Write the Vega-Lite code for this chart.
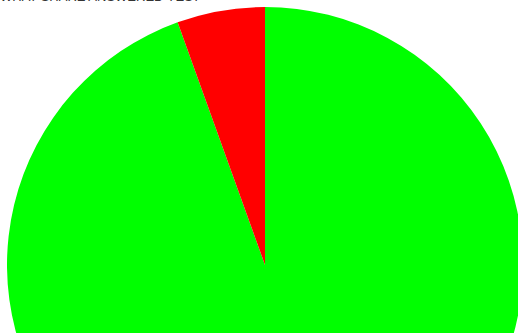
{
  "$schema": "https://vega.github.io/schema/vega-lite/v6.json",
  "width": 530,
  "height": 530,
  "padding": 0,
  "autosize": "none",
  "background": "white",
  "title": {
    "text": "WHAT SHARE ANSWERED YES?",
    "anchor": "start",
    "frame": "group",
    "fontSize": 13,
    "font": "Liberation Sans",
    "fontWeight": "normal",
    "color": "#333333",
    "offset": 0,
    "dy": 3.5
  },
  "data": {
    "values": [
      {"answer": "No", "share": 94.5},
      {"answer": "Yes", "share": 5.5}
    ]
  },
  "mark": {"type": "arc", "outerRadius": 258, "stroke": null},
  "encoding": {
    "theta": {"field": "share", "type": "quantitative", "stack": true},
    "order": {"field": "answer", "sort": "ascending"},
    "color": {
      "field": "answer",
      "type": "nominal",
      "scale": {"domain": ["No", "Yes"], "range": ["#00ff00", "#ff0000"]},
      "legend": null
    }
  },
  "config": {"view": {"stroke": null}}
}
